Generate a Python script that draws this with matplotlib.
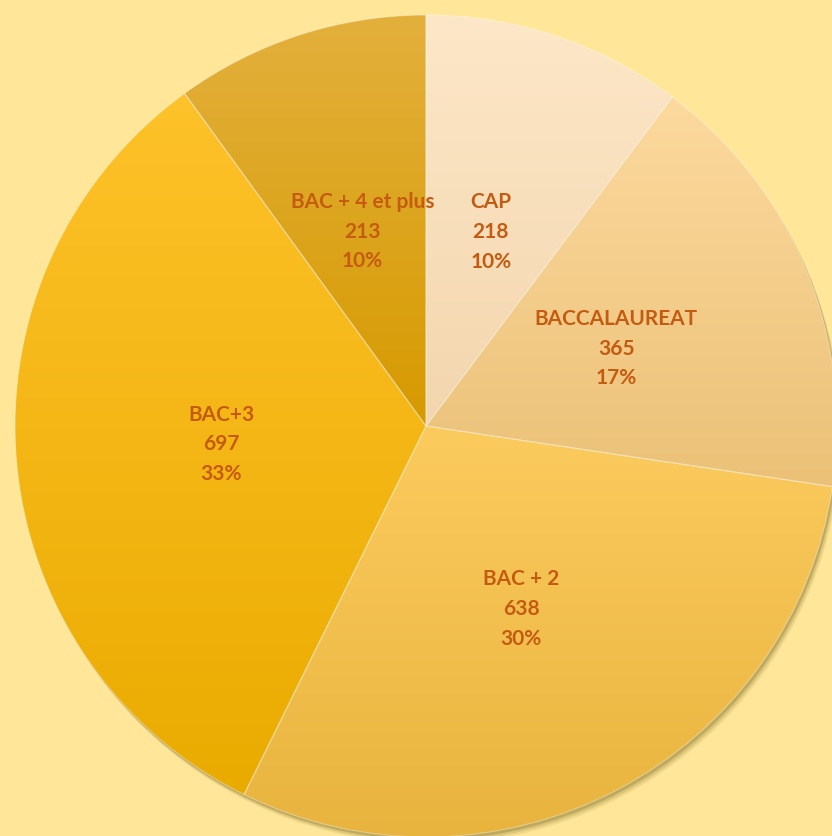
import numpy as np
import matplotlib
matplotlib.use("Agg")
import matplotlib.pyplot as plt
from matplotlib.colors import LinearSegmentedColormap
from matplotlib.patches import Circle

categories = ["CAP", "BACCALAUREAT", "BAC + 2", "BAC+3", "BAC + 4 et plus"]
values = [218, 365, 638, 697, 213]
# gradient colours, top -> bottom of each slice
top_colors = ["#FDE7C8", "#FCD99E", "#FCCB5E", "#FEC22A", "#E3B03C"]
bottom_colors = ["#F3D6AE", "#EBC177", "#E8B43E", "#EAAB00", "#D69A00"]

W, H = 832, 837
bg = "#FFE699"
text_color = "#C55A11"
cx, cy, R = 426, H - 427, 411

fig = plt.figure(figsize=(W / 100, H / 100), dpi=100)
fig.patch.set_facecolor(bg)
ax = fig.add_axes([0, 0, 1, 1])
ax.set_facecolor(bg)

# soft drop shadow
for off, a in [(7, 0.10), (5, 0.15), (3, 0.25)]:
    ax.add_patch(Circle((cx + off * 0.6, cy - off), R, color="#6b5a10",
                        alpha=a, lw=0, zorder=0))

wedges, _ = ax.pie(values, startangle=90, counterclock=False, center=(cx, cy),
                   radius=R, wedgeprops=dict(edgecolor=(1, 1, 1, 0.35), linewidth=0.8))

grad = np.linspace(0, 1, 256).reshape(-1, 1)
for w, c0, c1 in zip(wedges, top_colors, bottom_colors):
    w.set_facecolor("none")
    v = w.get_path().vertices
    x0, x1 = v[:, 0].min(), v[:, 0].max()
    y0, y1 = v[:, 1].min(), v[:, 1].max()
    cmap = LinearSegmentedColormap.from_list("g", [c0, c1])
    im = ax.imshow(grad, cmap=cmap, extent=(x0, x1, y0, y1), origin="upper",
                   aspect="auto", zorder=1)
    im.set_clip_path(w)
    w.set_zorder(2)

total = sum(values)
start = 90.0
for cat, val in zip(categories, values):
    span = val / total * 360
    mid = np.deg2rad(start - span / 2)
    start -= span
    tx = cx + 0.5 * R * np.cos(mid)
    ty = cy + 0.5 * R * np.sin(mid)
    pct = round(val / total * 100)
    ax.text(tx, ty, f"{cat}\n{val}\n{pct}%", ha="center", va="center",
            color=text_color, fontsize=15, fontweight="bold", family="Lato",
            linespacing=1.6, zorder=5)

ax.set_xlim(0, W)
ax.set_ylim(0, H)
ax.set_aspect("equal")
ax.axis("off")

plt.savefig("out.png", dpi=100, facecolor=bg)
plt.close()
